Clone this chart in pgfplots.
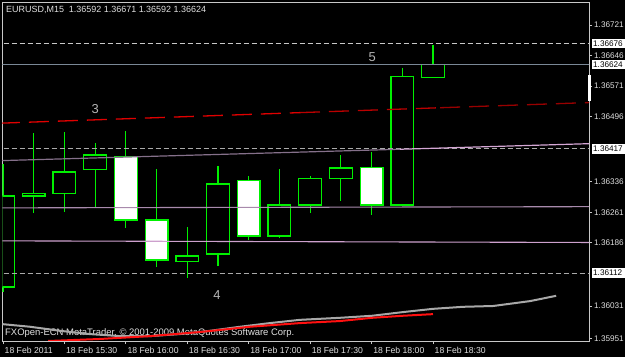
\documentclass[border=0pt]{standalone}
\usepackage{pgfplots}
\pgfplotsset{compat=1.18}
\usepackage{fontspec}
\setmainfont{Liberation Sans}
\definecolor{lime}{HTML}{00F000}
\definecolor{bid}{HTML}{7A8896}
\definecolor{dashgray}{HTML}{C8C8C8}
\definecolor{mauvedark}{HTML}{85708A}
\definecolor{mauvelight}{HTML}{D4A6D4}
\definecolor{mauvemid}{HTML}{A88AAC}
\definecolor{pinkline}{HTML}{CDA0CD}
\definecolor{redA}{HTML}{E00000}
\definecolor{redB}{HTML}{BB0000}
\definecolor{redC}{HTML}{980000}
\definecolor{grayind}{HTML}{A8A8A8}
\definecolor{redind}{HTML}{FF1010}
\definecolor{axisgray}{HTML}{C8C8C8}
\definecolor{txt}{HTML}{E0E0E0}
\definecolor{numgray}{HTML}{B4B4B4}
\tikzset{
  wick/.style={lime, line width=1.2bp},
  body/.style={draw=lime, line width=1.3bp},
}
% \candle{index}{open}{high}{low}{close}{body fill}
\newcommand\candle[6]{%
  \addplot[wick] coordinates {(#1,#4) (#1,#3)};
  \pgfmathsetmacro\xl{#1-0.37}\pgfmathsetmacro\xr{#1+0.37}%
  \edef\tmp{\noexpand\addplot[body, fill=#6] coordinates {(\xl,#2) (\xr,#2) (\xr,#5) (\xl,#5)} --cycle;}\tmp
}
\begin{document}
\begin{tikzpicture}
\useasboundingbox (0,0) rectangle (625bp,357bp);
\clip (0,0) rectangle (625bp,357bp);
\fill[black] (0,0) rectangle (625bp,357bp);
\node[anchor=west, inner sep=0, text=txt, font=\fontsize{9}{10}\selectfont] at (6bp,347bp) {EURUSD,M15\ \ 1.36592 1.36671 1.36592 1.36624};
\node[anchor=west, inner sep=0, text=txt, font=\fontsize{9.5}{10}\selectfont] at (5bp,24bp) {FXOpen-ECN MetaTrader, © 2001-2009 MetaQuotes Software Corp.};
\begin{axis}[
  at={(2.3bp,16bp)}, anchor=south west,
  scale only axis, width=586.7bp, height=338.7bp,
  xmin=-0.023, xmax=19.08, ymin=1.35945, ymax=1.36777,
  axis line style={axisgray, line width=1bp},
  tick align=outside, major tick length=3bp,
  tick style={axisgray, line width=0.8bp},
  xtick={0,2,4,6,8,10,12,14},
  xticklabels={18 Feb 2011,18 Feb 15:30,18 Feb 16:00,18 Feb 16:30,18 Feb 17:00,18 Feb 17:30,18 Feb 18:00,18 Feb 18:30},
  xtick pos=left,
  xticklabel style={anchor=north west, inner xsep=1.5bp, text=txt, font=\fontsize{8.7}{9}\selectfont},
  ytick={1.35951,1.36031,1.36186,1.36261,1.36336,1.36496,1.36571,1.36646,1.36721},
  yticklabels={1.35951,1.36031,1.36186,1.36261,1.36336,1.36496,1.36571,1.36646,1.36721},
  ytick pos=right, yticklabel pos=right,
  yticklabel style={text=txt, inner xsep=2bp, font=\fontsize{8.2}{9}\selectfont},
  clip=true,
]
% candles: index, open, high, low, close
\candle{0}{1.36078}{1.36380}{1.36066}{1.36301}{black}
\candle{1}{1.36301}{1.36456}{1.36259}{1.36308}{black}
\candle{2}{1.36308}{1.36458}{1.36262}{1.36360}{black}
\candle{3}{1.36367}{1.36431}{1.36274}{1.36402}{black}
\candle{4}{1.36399}{1.36461}{1.36223}{1.36242}{white}
\candle{5}{1.36242}{1.36367}{1.36127}{1.36144}{white}
\candle{6}{1.36141}{1.36225}{1.36100}{1.36154}{black}
\candle{7}{1.36159}{1.36375}{1.36129}{1.36331}{black}
\candle{8}{1.36340}{1.36350}{1.36193}{1.36203}{white}
\candle{9}{1.36203}{1.36367}{1.36198}{1.36279}{black}
\candle{10}{1.36279}{1.36350}{1.36259}{1.36345}{black}
\candle{11}{1.36345}{1.36402}{1.36289}{1.36370}{black}
\candle{12}{1.36372}{1.36409}{1.36255}{1.36279}{white}
\candle{13}{1.36279}{1.36615}{1.36279}{1.36594}{black}
\candle{14}{1.36592}{1.36671}{1.36592}{1.36624}{black}
% horizontal price lines
\addplot[dashgray, line width=1bp, dash pattern=on 5bp off 3bp] coordinates {(-0.5,1.36676) (19.5,1.36676)};
\addplot[bid, line width=1.2bp] coordinates {(-0.5,1.36624) (19.5,1.36624)};
\addplot[dashgray!85!black, line width=1bp, dash pattern=on 5bp off 3bp] coordinates {(-0.5,1.36417) (19.5,1.36417)};
\addplot[dashgray!85!black, line width=1bp, dash pattern=on 5bp off 3bp] coordinates {(-0.5,1.36112) (19.5,1.36112)};
% trend lines
\addplot[mauvedark, line width=1.2bp] coordinates {(-0.1,1.36388) (12.93,1.36416)};
\addplot[mauvelight, line width=1.2bp] coordinates {(12.93,1.36416) (19.2,1.36430)};
\addplot[mauvemid, line width=1.1bp] coordinates {(-0.1,1.36272) (19.2,1.36275)};
\addplot[pinkline, line width=1.1bp] coordinates {(-0.1,1.36191) (19.2,1.36187)};
% red dashed line
\addplot[redA, line width=1.3bp, dash pattern=on 20bp off 9bp] coordinates {(-0.1,1.36480) (9.67,1.36506)};
\addplot[redB, line width=1.3bp, dash pattern=on 20bp off 9bp] coordinates {(9.67,1.36506) (14.23,1.36518)};
\addplot[redC, line width=1.3bp, dash pattern=on 20bp off 9bp] coordinates {(14.23,1.36518) (19.2,1.36531)};
% bottom indicator lines
\addplot[grayind, line width=2bp] coordinates {(-0.1,1.35987) (0.88,1.35980) (1.86,1.35970) (2.83,1.35962) (3.81,1.35957) (4.79,1.35957) (5.76,1.35962) (6.74,1.35970) (7.72,1.35980) (8.69,1.35989) (9.67,1.35997) (10.97,1.36002) (12.02,1.36007) (13.02,1.36016) (14.0,1.36024) (14.98,1.36029) (15.96,1.36031) (17.16,1.36043) (18.01,1.36056)};
\addplot[redind, line width=2bp] coordinates {(1.47,1.35945) (3.16,1.35950) (4.79,1.35957) (6.41,1.35967) (8.04,1.35980) (9.67,1.35989) (10.97,1.35994) (12.02,1.36002) (13.02,1.36007) (14.0,1.36011)};
% chart labels
\node[text=numgray, font=\fontsize{13}{14}\selectfont] at (axis cs:3.0,1.36515) {3};
\node[text=numgray, font=\fontsize{13}{14}\selectfont] at (axis cs:12.02,1.36642) {5};
\node[text=numgray, font=\fontsize{13}{14}\selectfont] at (axis cs:6.97,1.36058) {4};
\coordinate (b1) at (axis cs:19.08,1.36676);
\coordinate (b2) at (axis cs:19.08,1.36624);
\coordinate (b3) at (axis cs:19.08,1.36417);
\coordinate (b4) at (axis cs:19.08,1.36112);
\coordinate (w1) at (axis cs:19.08,1.36598);
\coordinate (w2) at (axis cs:19.08,1.36534);
\end{axis}
\foreach \b/\t in {b1/1.36676,b2/1.36624,b3/1.36417,b4/1.36112}{
  \fill[white] ([xshift=3bp,yshift=-4.7bp]\b) rectangle ([xshift=45bp,yshift=4.7bp]\b);
  \node[anchor=west, inner sep=0, text=black, font=\fontsize{8.2}{9}\selectfont] at ([xshift=4bp]\b) {\t};
}
\fill[white] ([xshift=-1.5bp]w1) rectangle ([xshift=2bp]w2);
\end{tikzpicture}
\end{document}
